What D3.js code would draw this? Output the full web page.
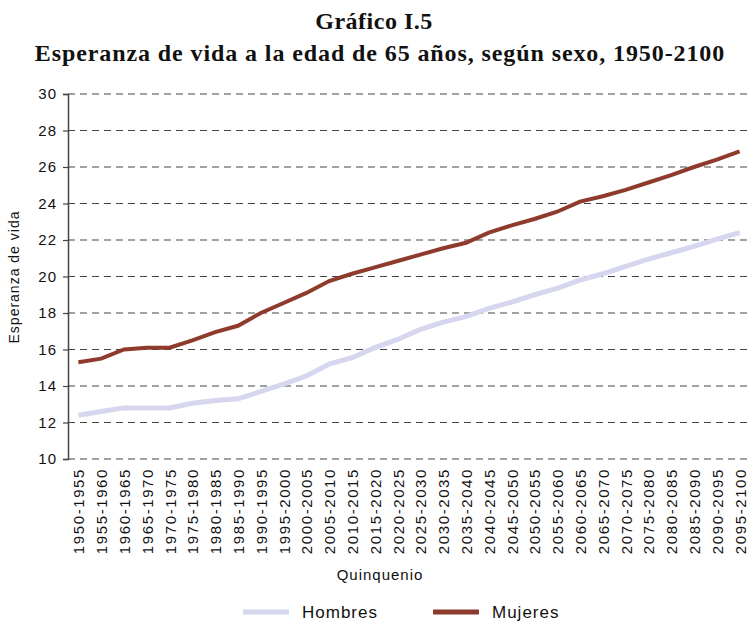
<!DOCTYPE html>
<html>
<head>
<meta charset="utf-8">
<script src="https://cdn.jsdelivr.net/npm/d3@7"></script>
<style>
  body { margin: 0; background: #fff; }
  text { font-family: "Liberation Sans", Arial, sans-serif; fill: #111; }
  .title { font-family: "Liberation Serif", "Times New Roman", serif; font-weight: bold; }
</style>
</head>
<body>
<div id="chart"></div>
<script>
// quinquenios
var periodos = ["1950-1955","1955-1960","1960-1965","1965-1970","1970-1975","1975-1980",
    "1980-1985","1985-1990","1990-1995","1995-2000","2000-2005","2005-2010","2010-2015",
    "2015-2020","2020-2025","2025-2030","2030-2035","2035-2040","2040-2045","2045-2050",
    "2050-2055","2055-2060","2060-2065","2065-2070","2070-2075","2075-2080","2080-2085",
    "2085-2090","2090-2095","2095-2100"];

var hombres = [12.4, 12.6, 12.8, 12.8, 12.8, 13.05, 13.2, 13.3, 13.7, 14.1,
    14.55, 15.2, 15.55, 16.1, 16.55, 17.1, 17.5, 17.8, 18.25, 18.6,
    19.0, 19.35, 19.8, 20.15, 20.55, 20.95, 21.3, 21.65, 22.05, 22.4];

var mujeres = [15.3, 15.5, 16.0, 16.1, 16.1, 16.5, 16.95, 17.3, 18.0, 18.55,
    19.1, 19.75, 20.15, 20.5, 20.85, 21.2, 21.55, 21.85, 22.4, 22.8,
    23.15, 23.55, 24.1, 24.4, 24.75, 25.15, 25.55, 26.0, 26.4, 26.85];

var yTicks = [10, 12, 14, 16, 18, 20, 22, 24, 26, 28, 30];

var W = 749, H = 624;
var svg = d3.select("#chart").append("svg")
    .attr("width", W)
    .attr("height", H);

// scales
var x = d3.scalePoint().domain(periodos).range([67, 751]).padding(0.5);
var y = d3.scaleLinear().domain([10, 30]).range([459, 94]);

// title
svg.append("text").attr("class", "title")
    .attr("x", 374).attr("y", 29)
    .attr("text-anchor", "middle")
    .style("font-size", "24px")
    .style("letter-spacing", "0.5px")
    .text("Gráfico I.5");
svg.append("text").attr("class", "title")
    .attr("x", 380).attr("y", 61)
    .attr("text-anchor", "middle")
    .style("font-size", "24px")
    .style("letter-spacing", "0.9px")
    .text("Esperanza de vida a la edad de 65 años, según sexo, 1950-2100");

// grid lines
svg.append("g")
    .selectAll("line")
    .data(yTicks)
    .enter().append("line")
    .attr("x1", 68).attr("x2", W)
    .attr("y1", function (d) { return y(d); })
    .attr("y2", function (d) { return y(d); })
    .style("stroke", "#444")
    .style("stroke-width", 1.2)
    .style("stroke-dasharray", "7,5");

// y axis
var yAxis = svg.append("g")
    .attr("transform", "translate(68,0)")
    .call(d3.axisLeft(y).tickValues(yTicks).tickSize(5).tickPadding(6));
yAxis.select(".domain").style("stroke", "#444").style("stroke-width", 1.5);
yAxis.selectAll(".tick line").style("stroke", "#444").style("stroke-width", 1.2);
yAxis.selectAll(".tick text")
    .style("font-size", "15px")
    .style("letter-spacing", "1px")
    .style("font-family", "'Liberation Sans', Arial, sans-serif")
    .style("fill", "#111");

// x labels
var xAxis = svg.append("g")
    .attr("transform", "translate(0,459)")
    .call(d3.axisBottom(x).tickSize(0).tickPadding(0));
xAxis.select(".domain").remove();
xAxis.selectAll(".tick text")
    .attr("transform", "rotate(-90)")
    .attr("x", -9)
    .attr("y", 0)
    .attr("dy", "0.36em")
    .style("text-anchor", "end")
    .style("font-size", "15px")
    .style("letter-spacing", "1.6px")
    .style("font-family", "'Liberation Sans', Arial, sans-serif")
    .style("fill", "#111");

// axis titles
svg.append("text")
    .attr("transform", "translate(19,277) rotate(-90)")
    .attr("text-anchor", "middle")
    .style("font-size", "14px")
    .style("letter-spacing", "1px")
    .text("Esperanza de vida");
svg.append("text")
    .attr("x", 380).attr("y", 580)
    .attr("text-anchor", "middle")
    .style("font-size", "15px")
    .style("letter-spacing", "1px")
    .text("Quinquenio");

// lines
var line = d3.line()
    .x(function (d, i) { return x(periodos[i]); })
    .y(function (d) { return y(d); });

svg.append("path").datum(hombres)
    .attr("d", line)
    .style("fill", "none")
    .style("stroke", "#d6d6ee")
    .style("stroke-width", 5);

svg.append("path").datum(mujeres)
    .attr("d", line)
    .style("fill", "none")
    .style("stroke", "#8e3b2e")
    .style("stroke-width", 4);

// legend
var leyenda = [
    {name: "Hombres", color: "#d6d6ee", x: 243},
    {name: "Mujeres", color: "#8e3b2e", x: 433}
];
var lg = svg.append("g").selectAll("g")
    .data(leyenda)
    .enter().append("g");
lg.append("line")
    .attr("x1", function (d) { return d.x; })
    .attr("x2", function (d) { return d.x + 46; })
    .attr("y1", 612).attr("y2", 612)
    .style("stroke", function (d) { return d.color; })
    .style("stroke-width", 5);
lg.append("text")
    .attr("x", function (d) { return d.x + 59; })
    .attr("y", 618)
    .style("font-size", "17px")
    .style("letter-spacing", "1px")
    .text(function (d) { return d.name; });
</script>
</body>
</html>
